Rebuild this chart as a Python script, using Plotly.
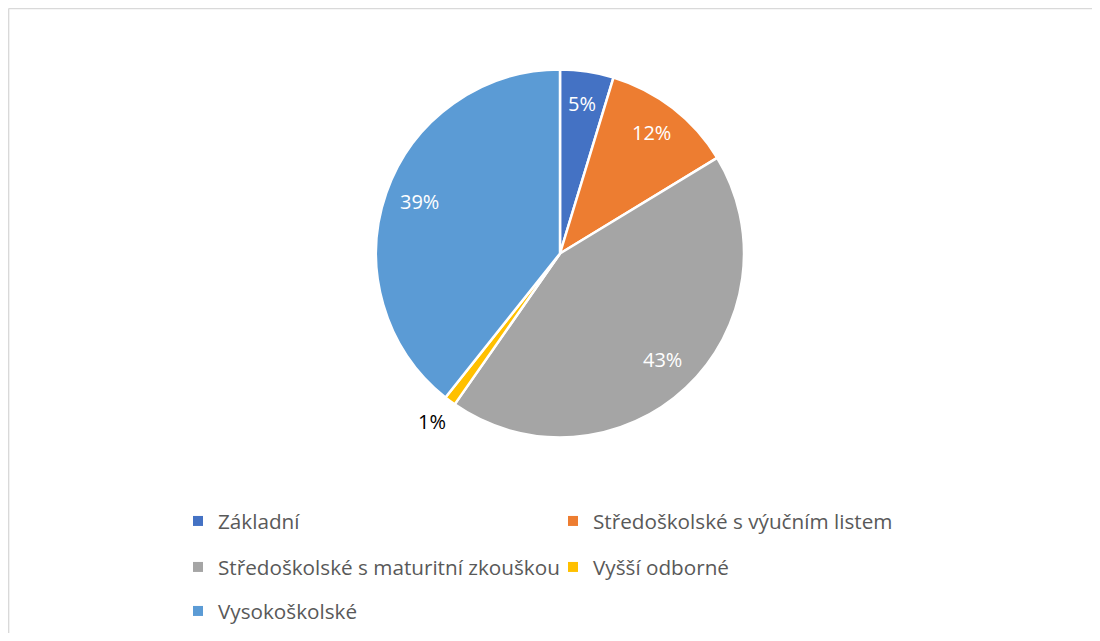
import math
import plotly.graph_objects as go

categories = ["Základní", "Středoškolské s výučním listem",
              "Středoškolské s maturitní zkouškou", "Vyšší odborné", "Vysokoškolské"]
values = [4.7, 11.6, 43.4, 1.0, 39.3]
colors = ["#4472C4", "#ED7D31", "#A5A5A5", "#FFC000", "#5B9BD5"]
label_inside = [True, True, True, False, True]
legend_rows = ["legend", "legend", "legend2", "legend2", "legend3"]

# page body has 8px margins on every side -> keep figure inside the window (no scrollbars)
W, H = 1084, 625
FONT = "'Open Sans', sans-serif"

CX, CY, R = 552, 245.5, 184  # pie centre / radius in figure pixels

fig = go.Figure()
fig.add_trace(go.Pie(
    labels=categories, values=values, sort=False, direction="clockwise", rotation=0,
    marker=dict(colors=colors, line=dict(color="white", width=2.5)),
    textinfo="none",
    showlegend=False, hoverinfo="label+percent",
    domain=dict(x=[(CX - R) / W, (CX + R) / W],
                y=[(H - (CY + R)) / H, (H - (CY - R)) / H]),
))

# data labels placed along each slice's mid angle (Excel best-fit style)
total = sum(values)
cum = 0.0
annotations = []
for v, inside in zip(values, label_inside):
    mid = (cum + v / 2) / total * 2 * math.pi
    cum += v
    rr = R * (0.81 if inside else 1.16)
    px = CX + rr * math.sin(mid)
    py = CY - rr * math.cos(mid) - 3
    annotations.append(dict(
        x=px / W, y=(H - py) / H, xref="paper", yref="paper",
        text=f"{round(v / total * 100)}%", showarrow=False,
        xanchor="center", yanchor="middle",
        font=dict(family=FONT, size=20, color="white" if inside else "#000000")))

for cat, col, lg in zip(categories, colors, legend_rows):
    fig.add_trace(go.Scatter(
        x=[None], y=[None], mode="markers", name=cat,
        marker=dict(symbol="square", size=10, color=col),
        legend=lg, showlegend=True, hoverinfo="skip"))

legend_common = dict(orientation="h", entrywidth=330, entrywidthmode="pixels",
                     font=dict(family=FONT, size=20.7, color="#595959"),
                     bgcolor="rgba(0,0,0,0)", borderwidth=0,
                     xanchor="left", yanchor="middle", itemwidth=30)
LX = 170
BORDER = dict(color="#D9D9D9", width=1.5)
fig.update_layout(
    width=W, height=H,
    margin=dict(l=0, r=0, t=0, b=0),
    paper_bgcolor="white", plot_bgcolor="white",
    xaxis=dict(visible=False), yaxis=dict(visible=False),
    legend=dict(x=LX / W, y=(H - 513) / H, **legend_common),
    legend2=dict(x=LX / W, y=(H - 559) / H, **legend_common),
    legend3=dict(x=LX / W, y=(H - 603) / H, **legend_common),
    annotations=annotations,
    shapes=[
        dict(type="line", xref="paper", yref="paper",
             x0=0.6 / W, x1=1.0, y0=(H - 0.6) / H, y1=(H - 0.6) / H, line=BORDER),
        dict(type="line", xref="paper", yref="paper",
             x0=0.6 / W, x1=0.6 / W, y0=0, y1=(H - 0.6) / H, line=BORDER),
    ],
)

fig.write_html("out.html")
